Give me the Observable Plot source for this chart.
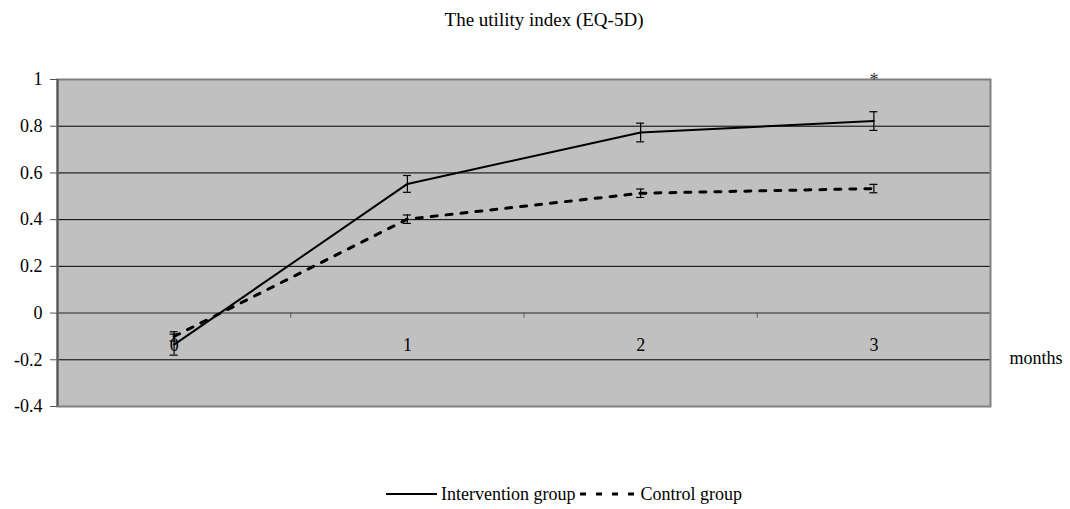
<!DOCTYPE html>
<html>
<head>
<meta charset="utf-8">
<script src="https://cdn.jsdelivr.net/npm/d3@7"></script>
<script src="https://cdn.jsdelivr.net/npm/@observablehq/plot@0.6"></script>
<style>
  html, body { margin: 0; padding: 0; background: #fff; }
  #wrap { position: relative; width: 1070px; height: 509px; font-family: "Liberation Serif", "Times New Roman", serif; color: #000; }
  #title { position: absolute; left: 18px; top: 10px; width: 1052px; text-align: center; font-size: 19px; line-height: 19px; }
  #chart { position: absolute; left: 0; top: 40px; }
  #legend { position: absolute; left: 386px; top: 485px; display: flex; align-items: center; font-size: 18px; line-height: 18px; white-space: nowrap; }
  #legend svg { display: block; }
</style>
</head>
<body>
<div id="wrap">
  <div id="title"></div>
  <div id="chart"></div>
  <div id="legend"></div>
</div>
<script>
const chartTitle = "The utility index (EQ-5D)";
const xAxisTitle = "months";
const months = [0, 1, 2, 3];
const monthLabels = ["0", "1", "2", "3"];
const seriesNames = ["Intervention group", "Control group"];
const intervention = [-0.135, 0.553, 0.773, 0.822];
const interventionErr = [0.045, 0.036, 0.04, 0.04];
const control = [-0.10, 0.402, 0.513, 0.533];
const controlErr = [0.02, 0.018, 0.018, 0.018];
const yTicks = [-0.4, -0.2, 0, 0.2, 0.4, 0.6, 0.8, 1];
const gridValues = [-0.2, 0.2, 0.4, 0.6, 0.8];
const bandEdges = [-0.5, 0.5, 1.5, 2.5, 3.5];
const significance = [{month: 3, value: 1, mark: "*"}];

const rows = [];
months.forEach((m, i) => {
  rows.push({series: seriesNames[0], month: m, value: intervention[i], err: interventionErr[i]});
  rows.push({series: seriesNames[1], month: m, value: control[i], err: controlErr[i]});
});
const interRows = rows.filter(d => d.series === seriesNames[0]);
const ctrlRows = rows.filter(d => d.series === seriesNames[1]);

document.getElementById("title").textContent = chartTitle;

const font = "Liberation Serif";
const plot = Plot.plot({
  width: 1070,
  height: 400,
  marginLeft: 57,
  marginRight: 80,
  marginTop: 39,
  marginBottom: 34,
  style: {fontFamily: font, fontSize: "18px", background: "transparent", overflow: "visible"},
  x: {type: "linear", domain: [-0.5, 3.5], axis: null},
  y: {domain: [-0.4, 1], axis: null},
  marks: [
    Plot.frame({fill: "#c0c0c0", stroke: "none"}),
    Plot.ruleY(gridValues, {stroke: "#000", strokeWidth: 1}),
    Plot.ruleY([0], {stroke: "#5a5a5a", strokeWidth: 1.5}),
    Plot.ruleX(bandEdges, {y1: 0, y2: 0, insetBottom: -5, stroke: "#5a5a5a", strokeWidth: 1}),
    Plot.frame({stroke: "#808080", strokeWidth: 2}),
    Plot.ruleX([-0.5], {stroke: "#555", strokeWidth: 2}),
    Plot.axisY({ticks: yTicks, tickFormat: d => String(d), label: null, tickSize: 7, tickPadding: 8, fontSize: 18, fill: "#000", stroke: "#555"}),
    Plot.text(months, {x: d => d, y: 0, text: (d, i) => monthLabels[i], dy: 32, fontSize: 18, fill: "#000"}),
    Plot.text([xAxisTitle], {frameAnchor: "right", y: -0.2, text: d => d, dx: 19, dy: -2, textAnchor: "start", fontSize: 18, fill: "#000"}),
    // error bars
    Plot.ruleX(rows, {x: "month", y1: d => d.value - d.err, y2: d => d.value + d.err, stroke: "#000", strokeWidth: 1.2}),
    Plot.ruleY(rows, {y: d => d.value - d.err, x1: "month", x2: "month", insetLeft: -4, insetRight: -4, stroke: "#000", strokeWidth: 1.2}),
    Plot.ruleY(rows, {y: d => d.value + d.err, x1: "month", x2: "month", insetLeft: -4, insetRight: -4, stroke: "#000", strokeWidth: 1.2}),
    // lines
    Plot.line(ctrlRows, {x: "month", y: "value", stroke: "#000", strokeWidth: 3, strokeDasharray: "6,9"}),
    Plot.line(interRows, {x: "month", y: "value", stroke: "#000", strokeWidth: 2}),
    Plot.text(significance, {x: "month", y: "value", text: "mark", dy: 1, fontSize: 18, fill: "#333"})
  ]
});
document.getElementById("chart").appendChild(plot);

// legend
const legend = d3.select("#legend");
function addSample(dash, w) {
  const s = legend.append("svg").attr("width", w).attr("height", 6);
  s.append("line").attr("x1", 0).attr("x2", w).attr("y1", 3).attr("y2", 3)
    .attr("stroke", "#000").attr("stroke-width", dash ? 3 : 2)
    .attr("stroke-dasharray", dash || null);
}
addSample(null, 51);
legend.append("span").style("margin-left", "4px").style("margin-right", "5px").text(seriesNames[0]);
addSample("6,10", 57);
legend.append("span").style("margin-left", "3px").text(seriesNames[1]);
</script>
</body>
</html>
